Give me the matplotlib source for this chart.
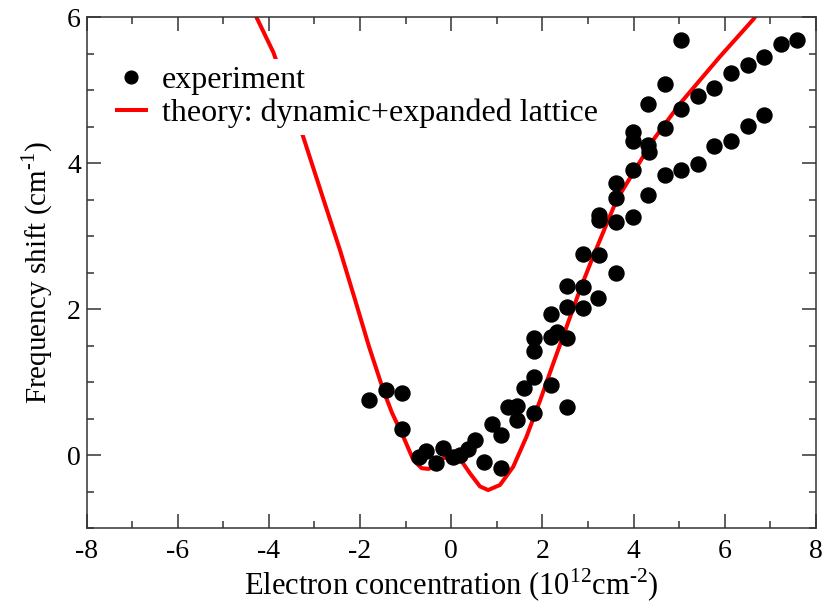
import matplotlib
matplotlib.use("Agg")
import matplotlib.pyplot as plt
from matplotlib.ticker import MultipleLocator

plt.rcParams["font.family"] = ["Liberation Serif", "DejaVu Serif"]
plt.rcParams["mathtext.fontset"] = "custom"
plt.rcParams["mathtext.rm"] = "Liberation Serif"
plt.rcParams["axes.unicode_minus"] = False

# experiment
exp_x = [-1.80, -1.42, -1.07, -1.07, -0.70, -0.55, -0.34, -0.19, 0.04, 0.19,
         0.37, 0.52, 0.72, 0.89, 1.09, 1.09, 1.25, 1.45, 1.45, 1.59,
         1.82, 1.82, 1.82, 1.82, 2.18, 2.18, 2.31, 2.18, 2.53, 2.53,
         2.53, 2.53, 2.89, 2.89, 2.89, 3.22, 3.25, 3.61, 3.25, 3.25,
         3.61, 3.99, 3.61, 3.61, 3.99, 3.99, 3.99, 4.32, 4.34, 4.32,
         4.32, 4.69, 4.69, 4.69, 5.05, 5.05, 5.05, 5.42, 5.42, 5.77,
         5.77, 6.13, 6.13, 6.50, 6.50, 6.86, 6.86, 7.23, 7.59]
exp_y = [0.75, 0.89, 0.85, 0.36, -0.02, 0.05, -0.11, 0.09, -0.02, 0.00,
         0.08, 0.21, -0.09, 0.43, 0.28, -0.18, 0.66, 0.67, 0.48, 0.92,
         1.07, 0.57, 1.42, 1.60, 1.94, 1.62, 1.69, 0.96, 1.60, 0.66,
         2.32, 2.03, 2.31, 2.01, 2.76, 2.15, 2.74, 2.49, 3.29, 3.22,
         3.20, 3.27, 3.52, 3.73, 3.91, 4.30, 4.43, 4.25, 4.15, 3.56,
         4.82, 4.48, 5.09, 3.84, 5.69, 4.74, 3.91, 4.92, 3.99, 5.03,
         4.24, 5.24, 4.31, 5.35, 4.51, 5.46, 4.66, 5.63, 5.69]

# theory curve: dynamic + expanded lattice
theory_x = [-4.35, -4.27, -3.90, -3.25, -2.80, -2.44, -2.11, -1.80, -1.49, -1.30,
            -1.05, -0.83, -0.65, -0.50, -0.39, -0.18, 0.01, 0.19, 0.41, 0.63,
            0.81, 1.07, 1.36, 1.65, 1.95, 2.24, 2.53, 2.82, 3.11, 3.63,
            4.43, 5.02, 5.89, 6.62, 6.75]
theory_y = [6.15, 6.00, 5.52, 4.37, 3.50, 2.81, 2.13, 1.48, 0.89, 0.58,
            0.25, -0.07, -0.18, -0.19, -0.16, -0.05, 0.02, -0.05, -0.25, -0.43,
            -0.48, -0.41, -0.16, 0.25, 0.75, 1.26, 1.76, 2.26, 2.72, 3.50,
            4.32, 4.82, 5.46, 5.97, 6.08]

fig = plt.figure(figsize=(8.36, 6.03), dpi=100)
ax = fig.add_axes([0.1035, 0.1244, 0.8725, 0.8466])

ax.plot(exp_x, exp_y, "o", color="black", markersize=10.8, label="experiment",
        zorder=3)
ax.plot(theory_x, theory_y, color="#ff0000", linewidth=2.9,
        label="theory: dynamic+expanded lattice", zorder=2)

ax.set_xlim(-8, 8)
ax.set_ylim(-1, 6)
ax.xaxis.set_major_locator(MultipleLocator(2))
ax.xaxis.set_minor_locator(MultipleLocator(1))
ax.yaxis.set_major_locator(MultipleLocator(2))
ax.yaxis.set_minor_locator(MultipleLocator(0.5))
ax.tick_params(which="both", direction="in", top=True, right=True,
               labelsize=20, color="#333333", width=1.1)
ax.tick_params(which="major", length=10)
ax.tick_params(which="minor", length=5)
ax.tick_params(axis="x", which="major", pad=8)
ax.tick_params(axis="y", which="major", pad=4)
for s in ax.spines.values():
    s.set_color("#333333")
    s.set_linewidth(1.1)

ax.set_xlabel(r"Electron concentration (10$^{12}$cm$^{\text{-}2}$)",
              fontsize=22, labelpad=2)
ax.set_ylabel(r"Frequency shift (cm$^{\text{-}1}$)", fontsize=21, labelpad=9)

leg = ax.legend(loc="upper left", bbox_to_anchor=(0.033, 0.918), fontsize=23,
                frameon=True, framealpha=1, edgecolor="none", facecolor="white",
                handlelength=0.9, handletextpad=0.5, borderpad=0.2,
                labelspacing=0.12, borderaxespad=0, markerscale=0.85)

plt.savefig("out.png", dpi=100, facecolor="white")
